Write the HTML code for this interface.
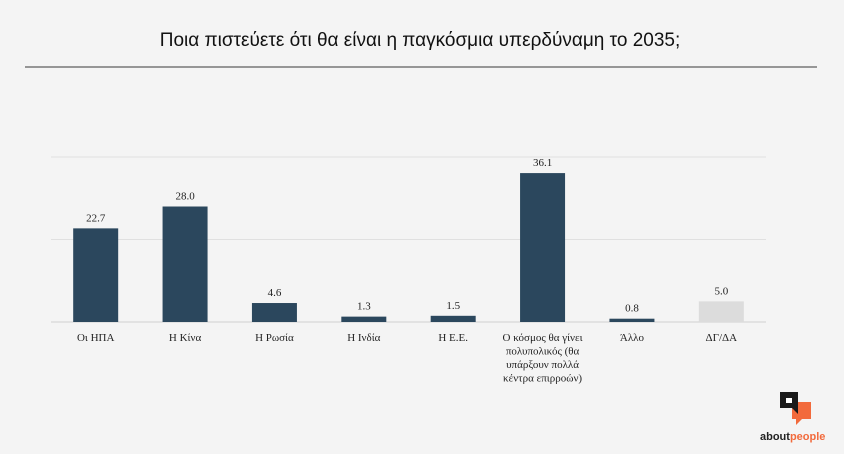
<!DOCTYPE html>
<html><head><meta charset="utf-8"><style>
html,body{margin:0;padding:0;background:#f4f4f4;width:844px;height:454px;overflow:hidden}
svg{display:block}
.t{font-family:"Liberation Sans",sans-serif}
.s{font-family:"Liberation Serif",serif}
</style></head><body>
<svg width="844" height="454">
<text class="t" x="420" y="46" text-anchor="middle" font-size="19" fill="#111">Ποια πιστεύετε ότι θα είναι η παγκόσμια υπερδύναμη το 2035;</text>
<line x1="25" x2="817" y1="67" y2="67" stroke="#777" stroke-width="1.5"/>
<g id="grid"></g><g id="bars"></g>
<g>
<rect x="792" y="402" width="19" height="17" fill="#f26a3c"/>
<polygon points="796,419 802,419 796,425" fill="#f26a3c"/>
<rect x="780" y="392" width="18" height="16" fill="#1a1a1a"/>
<polygon points="792,408 798,408 798,414" fill="#1a1a1a"/>
<rect x="786" y="398" width="6" height="5" fill="#fff"/>
<text class="t" x="760" y="440" font-size="11" font-weight="bold" fill="#222">about<tspan fill="#f26a3c">people</tspan></text>
</g>
</svg>
<script>
const categories=[["Οι ΗΠΑ"],["Η Κίνα"],["Η Ρωσία"],["Η Ινδία"],["Η Ε.Ε."],["Ο κόσμος θα γίνει","πολυπολικός (θα","υπάρξουν πολλά","κέντρα επιρροών)"],["Άλλο"],["ΔΓ/ΔΑ"]];
const values=[22.7,28.0,4.6,1.3,1.5,36.1,0.8,5.0];
const colors=["#2b475d","#2b475d","#2b475d","#2b475d","#2b475d","#2b475d","#2b475d","#dcdcdc"];
const gridTicks=[0,20,40];
const ns="http://www.w3.org/2000/svg";
const plotLeft=51,plotRight=766,plotBase=322,plotTop=157,maxV=40;
const band=(plotRight-plotLeft)/categories.length,bw=45;
const yScale=v=>plotBase-(v/maxV)*(plotBase-plotTop);
const xScale=i=>plotLeft+band*i+band/2;
const grid=document.getElementById('grid'),bars=document.getElementById('bars');
gridTicks.forEach(t=>{const l=document.createElementNS(ns,'line');


l.setAttribute('x1',plotLeft);l.setAttribute('x2',plotRight);l.setAttribute('y1',yScale(t));l.setAttribute('y2',yScale(t));
l.setAttribute('stroke',t===0?'#cfcfcf':'#e0e0e0');l.setAttribute('stroke-width','1');grid.appendChild(l);});
values.forEach((v,i)=>{
const r=document.createElementNS(ns,'rect');


r.setAttribute('x',xScale(i)-bw/2);r.setAttribute('y',yScale(v));r.setAttribute('width',bw);r.setAttribute('height',plotBase-yScale(v));r.setAttribute('fill',colors[i]);bars.appendChild(r);
const t=document.createElementNS(ns,'text');


t.setAttribute('class','s');t.setAttribute('x',xScale(i));t.setAttribute('y',yScale(v)-7);t.setAttribute('text-anchor','middle');t.setAttribute('font-size','11');t.setAttribute('fill','#222');t.textContent=v.toFixed(1);bars.appendChild(t);
categories[i].forEach((line,k)=>{const c=document.createElementNS(ns,'text');


c.setAttribute('class','s');c.setAttribute('x',xScale(i));c.setAttribute('y',341+k*13.5);c.setAttribute('text-anchor','middle');c.setAttribute('font-size','11');c.setAttribute('fill','#222');c.textContent=line;bars.appendChild(c);});
});
</script>
</body></html>
